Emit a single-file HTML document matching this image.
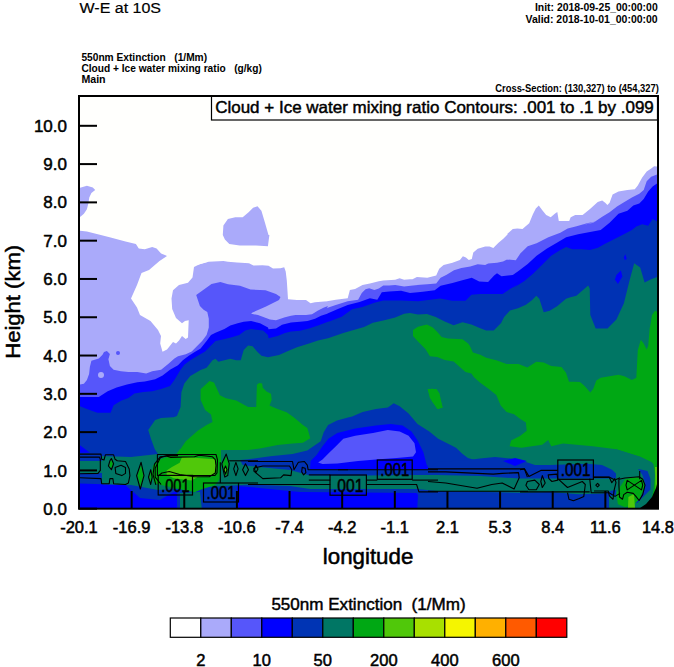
<!DOCTYPE html>
<html><head><meta charset="utf-8"><style>
html,body{margin:0;padding:0;background:#fff;width:674px;height:667px;overflow:hidden}
svg{display:block;font-family:"Liberation Sans",sans-serif}
</style></head><body>
<svg width="674" height="667" viewBox="0 0 674 667">
<rect x="0" y="0" width="674" height="667" fill="#fff"/>
<g id="fill">
<rect x="79" y="96" width="579" height="413" fill="#FFFFFD"/>
<defs><clipPath id="pc"><rect x="80" y="97" width="577" height="411"/></clipPath></defs><g clip-path="url(#pc)">
<polygon fill="#AAAAFA" points="60.0,520.0 60.0,229.0 86.9,231.5 98.8,234.5 110.6,237.4 125.5,241.5 135.9,243.9 138.8,248.4 144.8,249.2 152.2,246.9 156.6,248.4 161.1,253.4 165.5,255.2 169.4,257.3 198.2,264.7 208.6,261.7 223.4,261.1 228.0,261.7 237.0,262.5 249.0,263.2 253.5,265.5 262.5,265.2 268.5,265.8 273.0,268.5 280.5,268.2 284.2,267.3 285.7,271.5 286.8,280.5 288.0,299.2 297.0,300.0 306.0,300.0 310.5,303.3 315.0,302.2 324.0,301.5 328.0,301.2 326.9,301.2 335.8,299.7 347.7,298.2 349.9,290.1 355.1,288.9 362.5,284.9 369.9,283.4 378.8,281.2 383.3,280.4 395.2,279.7 399.6,278.2 404.1,279.7 413.0,278.9 418.0,276.7 412.5,279.2 416.9,276.9 427.3,277.7 436.2,275.4 439.2,268.8 443.6,265.1 452.5,262.8 459.9,259.9 462.9,256.2 465.9,257.6 468.8,259.9 471.8,259.1 473.3,252.4 477.7,248.7 485.2,246.5 489.6,246.5 493.3,248.0 498.5,242.8 503.0,239.1 508.0,233.9 506.9,234.3 512.8,229.1 517.3,228.4 522.5,229.1 529.2,223.2 532.9,214.3 535.8,208.4 538.8,205.4 542.5,210.6 546.2,215.0 550.7,217.3 555.1,213.5 557.3,212.1 558.8,221.0 569.2,221.0 570.7,217.3 575.2,215.0 582.6,215.0 590.0,209.1 598.0,201.7 590.3,209.3 597.7,201.9 602.2,200.4 605.2,202.7 607.4,204.9 609.6,202.7 612.6,194.5 618.5,191.5 627.4,190.1 634.8,189.3 637.8,185.6 642.2,177.4 646.7,171.5 651.2,168.5 654.1,166.3 657.1,166.6 663.0,166.3 680.0,166.0 680.0,520.0"/>
<polygon fill="#FFFFFD" points="165.0,250.0 168.5,255.0 159.5,261.0 149.0,270.0 141.5,273.0 137.0,285.0 131.0,298.5 137.0,307.5 140.0,315.0 150.5,321.0 158.0,330.0 161.0,336.0 160.2,343.5 162.5,351.7 167.0,349.5 173.0,342.0 176.0,343.5 179.0,340.5 182.0,336.0 185.7,339.0 188.0,337.5 188.7,320.2 185.0,321.0 182.0,323.2 176.0,318.0 172.2,309.0 171.5,298.5 173.0,290.2 179.0,285.0 188.0,282.7 192.5,277.5 194.0,267.0 200.0,264.0 208.1,261.7 208.0,255.0"/>
<polygon fill="#AAAAFA" points="222.8,235.1 223.4,225.6 227.9,219.0 235.3,217.3 242.7,217.3 248.6,212.2 253.1,207.8 257.5,206.3 261.4,210.7 264.9,222.6 268.5,235.1 269.4,235.0 267.9,246.3 256.0,245.4 239.7,245.4 229.3,243.9 224.9,239.5"/>
<polygon fill="#AAAAFA" points="72.1,190.0 81.0,187.6 86.9,185.8 92.8,187.6 95.2,190.0 91.4,192.9 89.3,197.4 88.4,203.3 86.9,209.2 83.9,213.7 80.4,216.7 72.1,217.8"/>
<polygon fill="#5656FA" points="60.0,385.0 79.5,384.5 83.9,383.8 86.9,380.1 89.1,374.1 89.9,366.7 91.4,360.8 98.8,358.5 102.5,354.8 104.0,351.9 106.9,351.1 109.9,354.1 108.4,359.3 109.9,366.0 113.6,369.7 121.0,371.2 128.4,371.9 137.3,371.9 146.2,373.4 152.2,371.2 161.1,369.7 168.5,363.7 174.4,358.5 178.0,356.3 185.8,354.3 191.7,351.4 196.9,346.2 202.1,341.0 206.6,335.1 208.8,327.6 208.8,318.7 207.3,312.1 203.6,309.8 199.9,306.1 197.7,299.5 196.2,295.0 201.1,291.4 211.5,284.0 220.4,281.9 228.0,284.2 240.0,285.7 250.5,289.5 265.5,290.2 276.0,294.0 280.5,297.0 279.0,300.0 273.0,303.0 265.5,306.7 252.0,312.7 251.2,313.8 258.0,315.0 270.0,319.5 276.0,320.2 285.0,317.2 291.0,315.7 295.5,315.0 306.0,315.0 312.0,314.2 318.0,310.5 324.0,307.5 328.0,306.0 326.9,307.9 335.8,304.9 347.7,301.2 358.1,299.7 361.8,293.0 365.5,289.3 369.2,288.3 374.4,290.1 378.8,288.6 383.3,285.6 389.2,285.6 395.2,284.9 404.1,286.4 413.0,285.6 418.0,284.9 416.9,285.1 427.3,284.3 436.2,283.6 440.6,277.7 446.6,274.7 454.0,270.3 461.4,268.0 470.3,266.5 477.7,264.3 485.2,265.1 488.1,263.6 497.0,262.8 503.0,261.4 508.0,259.1 506.9,259.5 515.8,260.3 520.3,253.6 527.7,246.2 536.6,243.2 548.4,237.3 560.3,232.8 567.7,228.4 576.6,226.2 587.0,223.2 598.0,221.0 582.9,224.9 593.3,222.7 602.2,216.8 609.6,212.3 617.0,206.4 624.4,201.9 631.9,197.5 639.3,193.8 643.7,190.1 646.7,181.2 651.2,176.7 657.1,174.5 663.0,173.7 680.0,174.0 680.0,520.0 60.0,520.0"/>
<polygon fill="#0000FF" points="60.0,397.0 79.5,397.1 86.9,397.1 98.8,397.1 107.7,391.2 116.6,387.5 127.0,384.5 137.3,382.3 144.8,381.5 155.2,379.3 162.6,375.6 170.0,369.7 178.0,365.2 182.8,360.3 188.8,355.8 194.7,352.1 200.6,348.4 206.6,341.0 211.0,335.1 215.5,332.8 224.4,329.1 230.3,325.4 237.7,323.2 243.7,321.7 251.1,321.0 260.0,323.2 268.0,327.6 268.5,329.2 276.0,328.5 282.0,324.7 291.0,322.5 300.0,321.7 307.5,321.0 315.0,318.7 321.0,315.7 328.0,313.5 326.9,313.8 337.3,309.3 347.7,304.9 359.5,301.9 369.9,298.2 377.3,299.7 381.8,292.3 389.2,291.5 401.1,290.8 410.0,293.0 418.0,292.3 422.8,291.8 434.7,290.3 440.6,285.8 452.5,282.9 461.4,280.6 471.8,277.7 479.2,281.4 488.1,282.1 494.1,275.4 497.0,273.2 501.5,276.2 508.0,275.4 512.8,275.0 518.8,270.7 527.7,264.0 536.6,255.8 547.0,248.4 557.3,242.5 566.2,237.3 578.1,234.3 590.0,232.1 598.0,230.6 600.7,230.0 609.6,222.7 618.5,213.8 627.4,210.8 633.3,205.6 639.3,203.4 643.7,199.0 648.2,191.5 652.6,186.4 657.1,183.4 663.0,182.6 680.0,183.0 680.0,520.0 60.0,520.0"/>
<polygon fill="#0032B4" points="60.0,406.0 79.5,406.0 86.9,409.0 97.3,412.7 110.6,412.7 113.6,405.3 121.0,400.8 128.4,397.9 134.4,393.4 143.3,391.9 152.2,391.2 161.1,389.0 170.0,386.0 174.4,380.1 178.0,374.1 179.9,370.7 184.3,364.7 190.3,360.3 197.7,355.8 205.1,351.4 211.0,345.4 215.5,341.0 222.9,339.5 231.8,337.3 239.2,335.1 245.2,330.6 251.1,329.1 263.0,330.6 268.0,335.1 268.5,338.2 277.5,336.0 285.0,333.0 291.0,331.5 300.0,330.7 309.0,328.5 318.0,325.5 324.0,323.2 328.0,321.7 329.9,321.2 341.7,316.8 352.1,309.3 362.5,307.1 374.4,302.7 383.3,300.4 401.1,300.4 418.0,301.2 440.3,298.5 452.1,300.8 465.5,300.8 471.4,294.8 480.3,294.1 502.6,294.1 510.0,288.9 518.0,284.5 512.6,288.4 524.4,281.0 533.3,273.6 542.2,264.7 551.2,255.8 560.3,249.9 566.2,246.9 572.2,249.2 581.1,249.2 590.0,249.9 598.0,247.7 604.6,243.9 613.5,239.5 622.4,235.0 631.9,230.0 636.3,226.4 642.2,224.2 648.2,225.7 652.6,219.0 657.1,221.2 663.0,221.2 680.0,221.0 680.0,520.0 60.0,520.0"/>
<polygon fill="#0000FF" points="614.9,279.5 616.4,275.1 620.9,270.6 622.4,276.5 617.9,284.0"/>
<polygon fill="#0000FF" points="623.9,257.3 625.3,254.3 626.8,258.7 624.7,260.2"/>
<polygon fill="#007664" points="158.0,520.0 158.0,454.0 154.8,449.2 151.2,439.6 148.2,430.0 155.2,420.0 161.1,417.9 173.0,417.2 178.0,416.4 171.0,418.2 176.9,416.0 180.6,407.1 181.4,392.3 184.3,383.4 190.3,375.9 200.6,370.0 206.6,367.7 212.5,360.3 215.5,358.8 218.4,361.8 224.4,360.3 230.3,358.8 236.2,360.3 240.7,360.3 243.7,349.9 248.1,345.4 252.6,346.2 257.0,351.4 261.5,355.8 268.0,357.3 279.0,355.0 288.0,351.0 297.0,347.2 309.0,343.5 318.0,340.5 328.0,338.2 343.3,332.9 364.1,327.0 372.9,322.7 383.3,320.5 395.2,317.5 404.1,313.8 410.0,313.1 418.0,314.5 426.9,314.1 435.8,317.1 444.7,321.5 453.6,325.3 462.5,322.3 471.4,324.5 480.3,328.2 486.2,330.4 493.7,330.4 501.1,323.0 504.1,317.1 510.0,310.4 518.0,308.2 525.9,304.7 531.9,300.3 536.3,295.8 539.3,298.8 543.7,312.2 549.7,310.7 557.1,306.2 566.0,298.8 570.4,297.3 576.4,295.8 588.2,285.4 589.7,288.4 590.3,315.1 595.7,328.5 607.5,328.5 616.4,319.6 623.9,303.2 629.8,279.5 634.2,263.2 640.2,267.6 644.6,282.5 650.6,279.5 658.0,276.5 680.0,276.0 680.0,520.0"/>
<polygon fill="#00A814" points="179.9,450.0 185.8,441.2 197.7,430.8 206.6,424.9 212.5,421.9 211.0,414.5 205.1,410.1 200.6,399.7 200.6,389.3 209.5,381.1 214.0,382.6 219.9,395.2 225.9,398.2 236.2,400.4 248.1,407.1 255.5,407.1 256.2,407.1 256.9,384.8 259.1,383.1 262.1,383.4 262.8,387.8 266.5,391.5 271.0,393.7 271.7,399.7 269.5,405.6 276.2,408.6 286.6,412.3 294.0,417.5 302.9,424.9 307.3,427.9 310.3,438.2 302.9,442.7 292.5,443.4 277.7,444.9 259.9,448.6 248.0,450.0"/>
<polygon fill="#00A814" points="413.0,330.0 418.0,326.7 426.9,324.5 432.8,327.5 437.3,331.9 441.7,337.1 447.7,338.6 462.5,339.3 468.4,343.8 469.9,345.9 472.9,352.6 480.3,354.8 486.2,357.8 496.3,360.2 506.6,363.9 518.5,363.9 527.4,367.6 536.3,361.7 543.7,362.4 551.2,366.1 561.5,366.9 566.0,372.8 569.0,381.7 574.0,381.7 579.9,382.1 584.4,385.8 590.3,392.5 593.3,388.8 596.3,380.6 600.7,377.7 609.6,376.2 618.5,374.7 624.4,376.2 631.9,379.9 636.3,377.7 637.8,350.2 640.8,339.8 643.7,343.5 646.7,349.5 648.2,345.8 649.7,328.0 650.4,325.0 652.0,315.1 655.0,310.7 658.0,312.2 680.0,312.0 680.0,466.0 658.0,465.6 652.0,462.6 640.2,456.7 616.4,449.3 592.7,446.3 563.0,443.4 551.2,446.3 548.2,440.0 542.2,444.8 521.5,447.8 509.6,446.3 511.1,440.4 520.0,436.0 526.7,430.7 525.9,422.5 520.0,418.8 514.1,414.3 506.6,412.1 500.7,405.4 496.3,395.1 488.8,389.1 479.9,382.4 474.0,377.3 475.9,380.1 471.4,373.4 465.5,371.9 453.6,361.5 444.7,360.0 437.3,357.1 429.9,356.3 425.4,348.9 418.0,341.5 413.0,335.9"/>
<polygon fill="#00A814" points="427.9,389.8 432.3,388.4 438.2,392.8 442.7,407.6 438.2,409.1 432.3,401.7"/>
<polygon fill="#00A814" points="427.6,389.0 436.5,389.0 439.5,393.4 442.5,407.5 437.3,409.0 429.9,397.9"/>
<polygon fill="#0032B4" points="248.0,459.3 270.3,456.3 292.5,454.1 307.3,450.4 320.7,441.2 323.7,432.3 328.1,424.9 337.0,420.4 348.0,417.5 352.2,416.5 362.6,412.1 375.9,409.1 387.8,407.6 393.7,403.2 399.7,406.2 408.6,413.6 417.5,424.0 429.3,431.4 438.2,438.8 450.1,444.7 456.0,447.7 462.0,453.6 467.9,458.1 478.0,461.1 478.0,475.0 248.0,475.0 240.0,460.0"/>
<polygon fill="#0000FF" points="310.6,461.1 316.6,455.1 322.5,446.2 328.4,438.8 337.3,432.9 355.2,428.4 375.9,425.4 390.8,424.0 402.6,425.4 411.5,431.4 417.5,440.3 423.4,452.2 426.4,464.0 429.3,470.0 429.0,469.5 310.0,469.5"/>
<polygon fill="#5656FA" points="318.1,462.5 322.5,459.6 328.4,453.6 335.9,446.2 343.3,438.8 355.2,435.8 373.0,432.9 387.8,429.9 399.7,431.4 408.6,435.8 414.5,443.2 416.0,452.2 413.0,456.6 396.7,458.1 375.9,459.6 358.1,461.1 337.3,463.4 322.5,464.0"/>
<polygon fill="#0032B4" points="60.0,455.0 158.0,455.0 158.0,486.0 221.0,486.0 250.0,459.0 292.0,462.0 310.0,469.5 429.0,469.5 437.0,462.0 468.0,460.0 480.0,458.5 495.0,457.0 511.0,458.5 523.0,461.0 535.0,465.0 550.0,465.0 565.0,464.5 587.0,463.7 602.0,465.0 612.0,469.7 617.0,474.4 618.0,478.6 680.0,478.6 680.0,520.0 60.0,520.0"/>
<polygon fill="#0000FF" points="60.0,445.0 79.8,445.0 90.0,452.8 60.0,452.8"/>
<polygon fill="#007664" points="60.0,461.0 102.0,461.0 102.0,456.0 131.0,457.0 158.0,454.0 250.0,466.0 290.0,470.0 310.0,475.5 366.0,475.5 417.0,475.0 437.0,475.0 480.0,476.0 520.0,478.6 618.0,478.6 620.0,489.0 612.0,490.4 603.0,493.4 579.0,494.2 550.0,492.0 520.0,492.7 437.0,491.0 417.0,489.0 366.0,489.0 310.0,489.0 290.0,486.0 250.0,484.5 158.0,490.0 131.0,485.0 102.0,485.0 102.0,473.0 60.0,473.0"/>
<polygon fill="#0000FF" points="60.0,483.0 125.0,485.0 131.0,490.0 140.0,498.0 160.0,500.0 177.0,490.0 177.0,520.0 60.0,520.0"/>
<polygon fill="#0000FF" points="237.0,486.0 250.0,487.0 300.0,492.0 416.6,493.0 418.0,495.0 416.6,520.0 237.0,520.0"/>
<polygon fill="#007664" points="180.0,493.0 200.0,492.0 203.0,520.0 180.0,520.0"/>
<polygon fill="#007664" points="609.0,496.0 620.0,495.0 620.0,520.0 609.0,520.0"/>
<polygon fill="#00A814" points="180.0,449.0 221.0,449.0 221.0,470.0 219.7,479.0 215.3,484.9 201.9,489.3 194.5,492.3 179.7,489.3 167.8,486.4 154.5,483.4 151.5,474.5 153.0,465.6 158.9,459.7 176.7,453.7"/>
<polygon fill="#50C80A" points="166.6,470.5 172.0,467.0 179.7,462.8 182.0,456.9 197.5,458.0 215.3,459.2 216.5,468.7 214.0,475.3 197.5,477.0 191.5,480.6 173.7,478.2 166.6,474.7"/>
<polygon fill="#007664" points="616.0,478.6 616.0,449.3 640.2,456.7 652.0,462.6 658.0,465.6 658.0,520.0 616.0,520.0"/>
<polygon fill="#00A814" points="649.0,458.4 653.5,464.3 655.0,474.7 653.5,489.5 652.0,497.0 660.0,497.0 660.0,458.0"/>
<polygon fill="#50C80A" points="655.0,467.0 658.0,467.0 658.0,494.0 655.5,490.0"/>
<polygon fill="#0032B4" points="638.0,469.0 640.9,469.5 647.5,471.0 650.5,479.1 650.5,489.5 644.6,495.4 637.2,502.9 632.7,501.4 643.1,492.5 644.6,482.1 642.3,474.7"/>
<polygon fill="#00A814" points="622.3,483.6 625.3,479.1 637.2,476.9 643.1,479.1 644.6,486.5 640.1,498.4 634.2,504.3 625.3,507.3 617.9,504.3 616.4,494.0 619.3,488.0"/>
<polygon fill="#50C80A" points="628.4,497.0 634.0,494.0 635.0,508.0 628.0,508.0"/>
<polygon fill="#000000" points="639.0,508.7 646.0,504.0 652.0,497.0 656.0,488.0 657.5,482.0 660.0,481.0 660.0,520.0 639.0,520.0"/>
<polygon fill="#0000FF" points="503.0,461.0 515.0,458.0 527.0,461.0 515.0,466.0"/>
<polygon fill="#00A814" points="141.1,464.5 143.3,475.6 140.3,486.7 137.6,475.6"/>
<polygon fill="#00A814" points="150.7,471.9 151.7,477.1 150.7,483.0 149.2,477.1"/>
<polygon fill="#00A814" points="111.4,460.0 113.0,463.7 111.4,468.2 109.2,466.0 110.2,461.5"/>
<polygon fill="#00A814" points="226.2,456.3 228.5,463.7 227.1,474.9 224.8,475.6 222.7,463.7"/>
<polygon fill="#50C80A" points="225.5,466.0 227.0,469.7 225.5,474.1 224.0,469.7"/>
<circle cx="101" cy="374.9" r="3" fill="#AAAAFA"/><circle cx="118" cy="353" r="2" fill="#5656FA"/>
<g fill="none" stroke="#000" stroke-width="1.1" stroke-linejoin="round">
<polyline points="79.5,454.1 101.0,454.1 101.7,459.3 104.0,460.0 105.4,454.8 113.6,454.8 115.1,459.3 117.3,460.8 125.5,461.5 129.2,468.9 129.9,475.6 128.4,483.0 125.5,484.5 113.6,483.8 112.9,478.6 109.9,478.6 109.2,483.8 101.7,483.8 101.0,478.6 79.5,477.8"/>
<polyline points="79.5,457.1 99.5,457.1 100.3,459.3 100.3,470.4 98.0,473.4 79.5,473.8"/>
<polygon points="115.1,467.4 121.0,465.2 125.5,467.4 125.5,473.4 121.8,475.6 115.8,473.4"/>
<polygon points="111.4,458.5 113.6,463.7 111.4,469.7 108.4,466.0 109.9,460.8"/>
<polygon points="141.1,462.3 144.0,475.6 140.3,489.0 136.6,475.6"/>
<polygon points="150.7,469.7 152.2,477.1 150.7,484.5 148.5,477.1"/>
<polygon points="157.4,454.5 216.0,454.5 217.5,460.0 217.0,473.0 215.0,475.5 157.4,475.5"/>
<polyline points="155.9,484.9 153.0,474.5 154.5,464.1 160.4,456.7 166.3,456.0 170.8,457.4 194.5,456.7 199.0,455.2 206.4,456.0 212.3,456.7 215.3,459.7 216.0,465.6 215.3,473.0 209.3,476.7 194.5,476.7 179.7,474.5 169.3,471.5 161.9,473.0 158.2,476.0"/>
<polyline points="161.1,484.5 155.2,477.1 155.2,468.2 160.3,457.8 167.0,455.6 178.0,455.6"/>
<polygon points="226.2,454.1 229.2,463.7 227.7,475.6 224.8,477.1 221.8,463.7"/>
<polygon points="225.5,466.0 227.0,469.7 225.5,474.1 224.0,469.7"/>
<polygon points="235.9,462.3 238.1,468.9 235.9,475.6 233.7,468.9"/>
<polygon points="245.5,463.7 248.5,469.7 245.5,475.6 242.6,469.7"/>
<polygon points="255.9,465.2 258.0,468.9 255.9,472.6 254.4,468.9"/>
<polyline points="220.3,462.3 220.3,483.0"/>
<polyline points="229.2,460.8 258.0,460.8"/>
<polyline points="238.9,483.0 258.0,483.0"/>
<polyline points="248.0,461.5 292.5,461.5 294.0,469.7 298.4,462.3 304.4,461.5 307.3,465.2 308.1,469.7 348.0,469.7"/>
<polygon points="253.9,468.2 262.8,466.0 289.5,466.0 291.8,469.7 291.0,475.6 283.6,474.9 280.6,477.8 262.8,478.6 253.9,471.2"/>
<polygon points="302.2,467.4 305.1,468.2 305.9,472.6 303.6,474.9 301.7,471.9"/>
<polyline points="308.8,474.9 330.3,474.9"/>
<polyline points="308.8,480.1 330.3,480.1"/>
<polyline points="248.0,484.5 330.3,484.5"/>
<polyline points="338.0,469.7 438.0,469.7"/>
<polyline points="366.2,480.1 377.3,480.1"/>
<polyline points="366.2,484.5 416.6,484.5 418.9,491.9 438.0,491.9"/>
<polyline points="412.2,480.1 438.0,480.1"/>
<polyline points="428.0,468.9 524.4,468.9 527.4,477.1"/>
<polyline points="428.0,471.9 445.8,471.9 493.3,474.1 502.2,473.4 518.5,472.6 519.2,477.8 514.1,489.0 502.2,483.0 491.8,484.5 477.0,488.2 445.8,483.0 428.0,481.5"/>
<polyline points="428.0,491.2 528.0,491.2"/>
<polyline points="520.0,469.7 524.5,468.9 528.9,476.4 540.8,470.4 557.8,470.4"/>
<polygon points="527.4,481.5 534.8,480.1 539.3,484.5 536.3,489.7 528.9,489.7 525.9,485.3"/>
<polygon points="542.3,475.6 545.2,483.0 542.3,487.5 540.8,481.5"/>
<polygon points="548.2,474.9 557.1,474.1 557.8,480.1 551.9,481.5 548.9,478.6"/>
<polyline points="558.6,479.3 567.5,487.5 582.3,481.5 585.3,484.5 583.8,496.4 579.3,498.6 573.4,500.8 569.0,499.3 567.5,492.7"/>
<polyline points="593.4,477.1 609.0,477.1 615.0,480.1 620.0,477.8"/>
<polyline points="589.7,478.6 591.2,492.7 609.0,492.7 615.0,496.4 620.0,493.4"/>
<polyline points="520.0,491.9 589.7,491.9"/>
<polyline points="594.0,477.4 609.4,477.4 611.8,482.7 614.8,478.6 616.0,482.7 614.2,489.9 613.0,499.3 609.4,495.8 608.2,491.0 594.0,491.0"/>
<polygon points="597.6,483.3 599.3,485.1 597.6,486.9 595.8,485.1"/>
<polygon points="618.9,479.2 624.9,478.0 639.1,476.8 642.7,479.2 645.0,485.1 642.7,494.6 639.1,500.5 635.5,495.8 633.2,493.4 627.2,492.2 623.7,494.6 622.5,499.3 619.5,497.0 618.9,485.1"/>
<polyline points="639.7,470.9 639.7,479.2"/>
<polygon points="627.2,480.4 634.4,485.1 641.5,480.4 642.7,485.1 641.5,489.9 634.4,485.1 627.2,489.9 626.0,485.1"/>
</g>
<g font-size="18" fill="#000" stroke="#000" stroke-width="0.5">
<rect x="158.2" y="475.4" width="34.3" height="19.6" fill="none" stroke="#000" stroke-width="1.2"/>
<text x="161.2" y="491.5" textLength="28.3" lengthAdjust="spacingAndGlyphs">.001</text>
<rect x="203.5" y="483.0" width="35.0" height="19.0" fill="none" stroke="#000" stroke-width="1.2"/>
<text x="206.5" y="498.5" textLength="29.0" lengthAdjust="spacingAndGlyphs">.001</text>
<rect x="330.0" y="475.0" width="36.4" height="20.2" fill="none" stroke="#000" stroke-width="1.2"/>
<text x="333.0" y="491.7" textLength="30.4" lengthAdjust="spacingAndGlyphs">.001</text>
<rect x="377.3" y="460.0" width="34.9" height="19.3" fill="none" stroke="#000" stroke-width="1.2"/>
<text x="380.3" y="475.8" textLength="28.9" lengthAdjust="spacingAndGlyphs">.001</text>
<rect x="557.8" y="460.0" width="35.6" height="19.3" fill="none" stroke="#000" stroke-width="1.2"/>
<text x="560.8" y="475.8" textLength="29.6" lengthAdjust="spacingAndGlyphs">.001</text>
</g>
</g>
</g>

<g id="legendbox">
<rect x="211.5" y="96" width="446" height="24" fill="#fff" stroke="#000" stroke-width="1.2"/>
<text x="215.2" y="112.5" font-size="16.5" stroke="#000" stroke-width="0.45" textLength="438.6" lengthAdjust="spacingAndGlyphs">Cloud + Ice water mixing ratio Contours: .001 to .1 by .099</text>
</g>
<g fill="#000"><rect x="79" y="507.70" width="18" height="2"/><rect x="79" y="469.41" width="18" height="2"/><rect x="79" y="431.12" width="18" height="2"/><rect x="79" y="392.83" width="18" height="2"/><rect x="79" y="354.54" width="18" height="2"/><rect x="79" y="316.25" width="18" height="2"/><rect x="79" y="277.96" width="18" height="2"/><rect x="79" y="239.67" width="18" height="2"/><rect x="79" y="201.38" width="18" height="2"/><rect x="79" y="163.09" width="18" height="2"/><rect x="79" y="124.80" width="18" height="2"/><rect x="78.00" y="491" width="2" height="17"/><rect x="130.64" y="491" width="2" height="17"/><rect x="183.27" y="491" width="2" height="17"/><rect x="235.91" y="491" width="2" height="17"/><rect x="288.54" y="491" width="2" height="17"/><rect x="341.18" y="491" width="2" height="17"/><rect x="393.82" y="491" width="2" height="17"/><rect x="446.45" y="491" width="2" height="17"/><rect x="499.09" y="491" width="2" height="17"/><rect x="551.72" y="491" width="2" height="17"/><rect x="604.36" y="491" width="2" height="17"/><rect x="657.00" y="491" width="2" height="17"/></g>
<rect x="79" y="96" width="579" height="412.7" fill="none" stroke="#000" stroke-width="2"/>
<g font-size="17" stroke="#000" stroke-width="0.5"><text x="67" y="514.80" text-anchor="end">0.0</text><text x="67" y="476.51" text-anchor="end">1.0</text><text x="67" y="438.22" text-anchor="end">2.0</text><text x="67" y="399.93" text-anchor="end">3.0</text><text x="67" y="361.64" text-anchor="end">4.0</text><text x="67" y="323.35" text-anchor="end">5.0</text><text x="67" y="285.06" text-anchor="end">6.0</text><text x="67" y="246.77" text-anchor="end">7.0</text><text x="67" y="208.48" text-anchor="end">8.0</text><text x="67" y="170.19" text-anchor="end">9.0</text><text x="67" y="131.90" text-anchor="end">10.0</text></g>
<g font-size="16.5" stroke="#000" stroke-width="0.5"><text x="79.00" y="533.2" text-anchor="middle">-20.1</text><text x="131.64" y="533.2" text-anchor="middle">-16.9</text><text x="184.27" y="533.2" text-anchor="middle">-13.8</text><text x="236.91" y="533.2" text-anchor="middle">-10.6</text><text x="289.54" y="533.2" text-anchor="middle">-7.4</text><text x="342.18" y="533.2" text-anchor="middle">-4.2</text><text x="394.82" y="533.2" text-anchor="middle">-1.1</text><text x="447.45" y="533.2" text-anchor="middle">2.1</text><text x="500.09" y="533.2" text-anchor="middle">5.3</text><text x="552.72" y="533.2" text-anchor="middle">8.4</text><text x="605.36" y="533.2" text-anchor="middle">11.6</text><text x="658.00" y="533.2" text-anchor="middle">14.8</text></g>
<text x="79.5" y="12.6" font-size="15.3" stroke="#000" stroke-width="0.2" textLength="81.5" lengthAdjust="spacingAndGlyphs">W-E at 10S</text>
<g font-size="10.4" font-weight="bold">
<text x="81.4" y="60.5" style="white-space:pre" textLength="125.7" lengthAdjust="spacingAndGlyphs">550nm Extinction   (1/Mm)</text>
<text x="81.4" y="72.3" style="white-space:pre" textLength="180.4" lengthAdjust="spacingAndGlyphs">Cloud + Ice water mixing ratio   (g/kg)</text>
<text x="81.4" y="83" textLength="24.2" lengthAdjust="spacingAndGlyphs">Main</text>
</g>
<g font-size="11" font-weight="bold">
<text x="534.9" y="11.2" textLength="122.8" lengthAdjust="spacingAndGlyphs">Init: 2018-09-25_00:00:00</text>
<text x="525.5" y="22.7" textLength="132.2" lengthAdjust="spacingAndGlyphs">Valid: 2018-10-01_00:00:00</text>
<text x="495.3" y="91.9" font-size="10" textLength="163.5" lengthAdjust="spacingAndGlyphs">Cross-Section: (130,327) to (454,327)</text>
</g>
<text x="322.8" y="563.5" font-size="21.5" stroke="#000" stroke-width="0.5" textLength="90.5" lengthAdjust="spacingAndGlyphs">longitude</text>
<text transform="translate(19.5,358.8) rotate(-90)" font-size="20.5" stroke="#000" stroke-width="0.5" textLength="114" lengthAdjust="spacingAndGlyphs">Height (km)</text>
<text x="271.4" y="610.4" font-size="16.5" stroke="#000" stroke-width="0.45" style="white-space:pre" textLength="194.2" lengthAdjust="spacingAndGlyphs">550nm Extinction  (1/Mm)</text>
<g><rect x="170.30" y="618" width="30.5" height="19.3" fill="#FFFFFF" stroke="#000" stroke-width="1.2"/><rect x="200.80" y="618" width="30.5" height="19.3" fill="#AAAAFA" stroke="#000" stroke-width="1.2"/><rect x="231.30" y="618" width="30.5" height="19.3" fill="#5656FA" stroke="#000" stroke-width="1.2"/><rect x="261.80" y="618" width="30.5" height="19.3" fill="#0000FF" stroke="#000" stroke-width="1.2"/><rect x="292.30" y="618" width="30.5" height="19.3" fill="#0034B4" stroke="#000" stroke-width="1.2"/><rect x="322.80" y="618" width="30.5" height="19.3" fill="#007664" stroke="#000" stroke-width="1.2"/><rect x="353.30" y="618" width="30.5" height="19.3" fill="#00A814" stroke="#000" stroke-width="1.2"/><rect x="383.80" y="618" width="30.5" height="19.3" fill="#50C80A" stroke="#000" stroke-width="1.2"/><rect x="414.30" y="618" width="30.5" height="19.3" fill="#A8E000" stroke="#000" stroke-width="1.2"/><rect x="444.80" y="618" width="30.5" height="19.3" fill="#F5F500" stroke="#000" stroke-width="1.2"/><rect x="475.30" y="618" width="30.5" height="19.3" fill="#FFB000" stroke="#000" stroke-width="1.2"/><rect x="505.80" y="618" width="30.5" height="19.3" fill="#FF5A00" stroke="#000" stroke-width="1.2"/><rect x="536.30" y="618" width="30.5" height="19.3" fill="#FF0000" stroke="#000" stroke-width="1.2"/></g>
<g font-size="16.5" stroke="#000" stroke-width="0.5"><text x="200.80" y="665.6" text-anchor="middle">2</text><text x="261.80" y="665.6" text-anchor="middle">10</text><text x="322.80" y="665.6" text-anchor="middle">50</text><text x="383.80" y="665.6" text-anchor="middle">200</text><text x="444.80" y="665.6" text-anchor="middle">400</text><text x="505.80" y="665.6" text-anchor="middle">600</text></g>
</svg>
</body></html>
